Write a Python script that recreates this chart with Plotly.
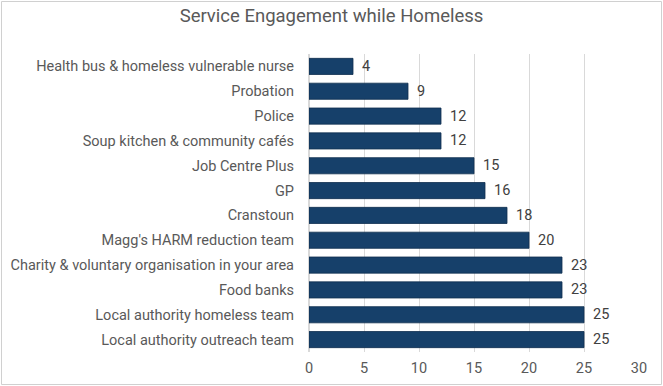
import plotly.graph_objects as go

categories = [
    "Health bus & homeless vulnerable nurse",
    "Probation",
    "Police",
    "Soup kitchen & community cafés",
    "Job Centre Plus",
    "GP",
    "Cranstoun",
    "Magg's HARM reduction team",
    "Charity & voluntary organisation in your area",
    "Food banks",
    "Local authority homeless team",
    "Local authority outreach team",
]
values = [4, 9, 12, 12, 15, 16, 18, 20, 23, 23, 25, 25]
x_ticks = [0, 5, 10, 15, 20, 25, 30]

W, H = 663, 386
ml, mr, mt, mb = 309, 24, 54, 34
pw, ph = W - ml - mr, H - mt - mb

fig = go.Figure(go.Bar(
    y=categories, x=values, orientation="h",
    marker=dict(color="#16406A", line=dict(color="#0F2E4F", width=0.8)),
))

for c, v in zip(categories, values):
    fig.add_annotation(x=v, y=c, text=str(v), showarrow=False, xanchor="left",
                       xshift=7, font=dict(family="Roboto", size=14.5, color="#404040"))

# outer chart border in pixel positions converted to paper coords
bx0, bx1, by_top, by_bot = 1.5, W - 1.5, 1.5, H - 1.5
fig.add_shape(type="rect", xref="paper", yref="paper",
              x0=(bx0 - ml) / pw, x1=(bx1 - ml) / pw,
              y0=(H - mb - by_bot) / ph, y1=(H - mb - by_top) / ph,
              line=dict(color="#D0D0D0", width=1), fillcolor="rgba(0,0,0,0)",
              layer="above")

fig.update_layout(
    width=W, height=H,
    margin=dict(l=ml, r=mr, t=mt, b=mb, autoexpand=False),
    paper_bgcolor="white", plot_bgcolor="white",
    bargap=0.35,
    showlegend=False,
    title=dict(text="Service Engagement while Homeless", x=0.5, xanchor="center",
               y=1 - 16 / H, yanchor="middle",
               font=dict(family="Roboto", size=18.5, color="#595959")),
    font=dict(family="Roboto", size=14.5, color="#595959"),
    xaxis=dict(range=[0, 30], tickvals=x_ticks, showgrid=True, gridcolor="#D9D9D9",
               gridwidth=1, zeroline=True, zerolinecolor="#D9D9D9", showline=False,
               ticks="", ticklabelstandoff=5, automargin=False,
               tickfont=dict(family="Roboto", size=14.5, color="#595959")),
    yaxis=dict(autorange="reversed", showgrid=False, ticks="", ticklabelstandoff=14,
               automargin=False,
               tickfont=dict(family="Roboto", size=14.5, color="#595959")),
)

fig.write_html("out.html", config={"displayModeBar": False},
               post_script="document.body.style.margin='0';")
